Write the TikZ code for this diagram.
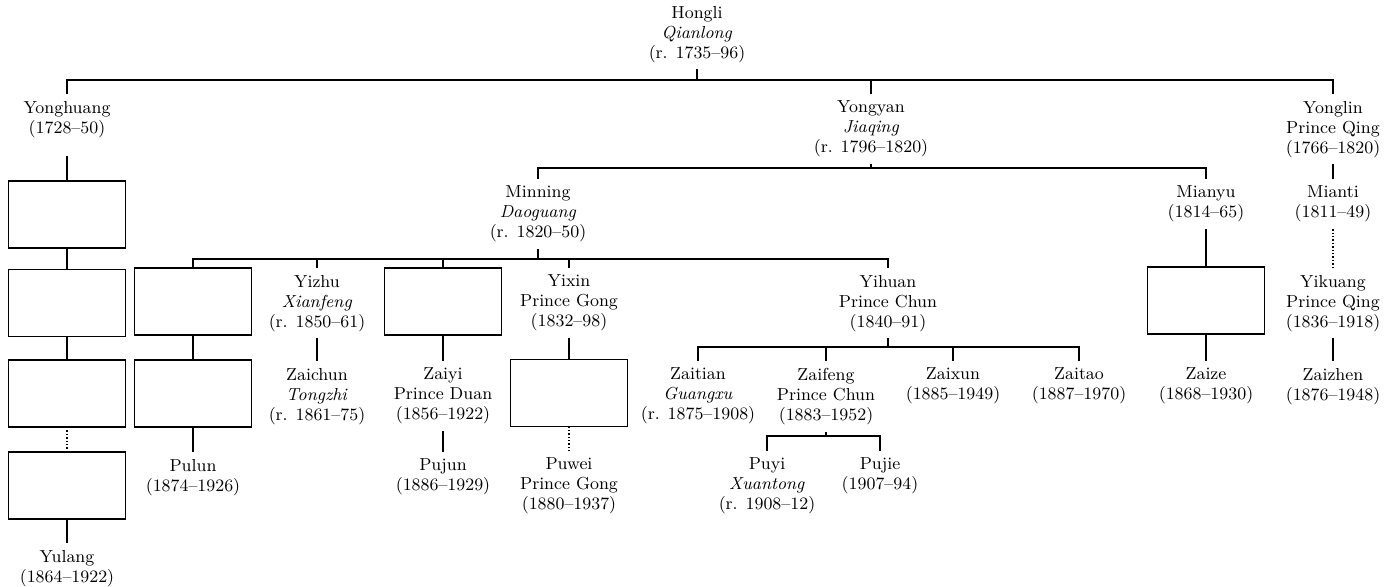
\documentclass[tikz,border=0pt]{standalone}
\begin{document}
\begin{tikzpicture}[x=0.5pt,y=-0.5pt,
  person/.style={align=center,inner sep=0pt,outer sep=3.5pt,anchor=north,font=\fontsize{8.7}{10}\selectfont},
  emptybox/.style={draw,line width=0.7pt,minimum width=58.5pt,minimum height=33.5pt,inner sep=0pt,outer sep=0pt},
  link/.style={line width=0.7pt},
  dotlink/.style={line width=0.7pt,densely dotted}]
\useasboundingbox (0,0) rectangle (1389,587);
% people
\node[person] (hongli) at (697,-1) {Hongli\\\textit{Qianlong}\\(r. 1735--96)};
\node[person] (yonghuang) at (67,94) {Yonghuang\\(1728--50)};
\node[person] (yongyan) at (871,94) {Yongyan\\\textit{Jiaqing}\\(r. 1796--1820)};
\node[person] (yonglin) at (1333,94) {Yonglin\\Prince Qing\\(1766--1820)};
\node[person] (minning) at (538,179) {Minning\\\textit{Daoguang}\\(r. 1820--50)};
\node[person] (mianyu) at (1206,179) {Mianyu\\(1814--65)};
\node[person] (mianti) at (1333,179) {Mianti\\(1811--49)};
\node[person] (yizhu) at (317,268) {Yizhu\\\textit{Xianfeng}\\(r. 1850--61)};
\node[person] (yixin) at (569,268) {Yixin\\Prince Gong\\(1832--98)};
\node[person] (yihuan) at (888,268) {Yihuan\\Prince Chun\\(1840--91)};
\node[person] (yikuang) at (1333,268) {Yikuang\\Prince Qing\\(1836--1918)};
\node[person] (zaichun) at (317,361) {Zaichun\\\textit{Tongzhi}\\(r. 1861--75)};
\node[person] (zaiyi) at (443,361) {Zaiyi\\Prince Duan\\(1856--1922)};
\node[person] (zaitian) at (698,361) {Zaitian\\\textit{Guangxu}\\(r. 1875--1908)};
\node[person] (zaifeng) at (826,361) {Zaifeng\\Prince Chun\\(1883--1952)};
\node[person] (zaixun) at (953,361) {Zaixun\\(1885--1949)};
\node[person] (zaitao) at (1079,361) {Zaitao\\(1887--1970)};
\node[person] (zaize) at (1206,361) {Zaize\\(1868--1930)};
\node[person] (zaizhen) at (1333,361) {Zaizhen\\(1876--1948)};
\node[person] (pulun) at (193,452) {Pulun\\(1874--1926)};
\node[person] (pujun) at (443,452) {Pujun\\(1886--1929)};
\node[person] (puwei) at (569,451) {Puwei\\Prince Gong\\(1880--1937)};
\node[person] (puyi) at (767,451) {Puyi\\\textit{Xuantong}\\(r. 1908--12)};
\node[person] (pujie) at (880,451) {Pujie\\(1907--94)};
\node[person] (yulang) at (67,543) {Yulang\\(1864--1922)};
% empty boxes
\node[emptybox] (A1) at (67,214.5) {};
\node[emptybox] (A2) at (67,303) {};
\node[emptybox] (A3) at (67,393.5) {};
\node[emptybox] (A4) at (67,485.5) {};
\node[emptybox] (B1) at (193,301.5) {};
\node[emptybox] (B2) at (193,393.5) {};
\node[emptybox] (C1) at (443,301.5) {};
\node[emptybox] (D1) at (569,393) {};
\node[emptybox] (E1) at (1206,300.5) {};
% bus points
\coordinate (b1) at (697,80);
\coordinate (b2) at (871,168);
\coordinate (b3) at (538,259);
\coordinate (b4) at (888,347);
\coordinate (b5) at (826,436);
% connectors
\draw[link] (hongli) -- (b1);
\draw[link] (yonghuang.north) |- (b1) -| (yonglin.north);
\draw[link] (yongyan.north) -- (yongyan.north |- b1);
\draw[link] (yongyan) -- (b2);
\draw[link] (minning.north) |- (b2) -| (mianyu.north);
\draw[link] (yonglin) -- (mianti);
\draw[link] (minning) -- (b3);
\draw[link] (B1.north) |- (b3) -| (yihuan.north);
\draw[link] (yizhu.north) -- (yizhu.north |- b3);
\draw[link] (C1.north) -- (C1.north |- b3);
\draw[link] (yixin.north) -- (yixin.north |- b3);
\draw[link] (mianyu) -- (E1);
\draw[dotlink] (mianti) -- (yikuang);
\draw[link,shorten <=6pt] (yonghuang) -- (A1);
\draw[link] (A1) -- (A2);
\draw[link] (A2) -- (A3);
\draw[dotlink] (A3) -- (A4);
\draw[link] (A4) -- (yulang);
\draw[link] (B1) -- (B2);
\draw[link] (B2) -- (pulun);
\draw[link] (yizhu) -- (zaichun);
\draw[link] (C1) -- (zaiyi);
\draw[link] (zaiyi) -- (pujun);
\draw[link] (yixin) -- (D1);
\draw[dotlink] (D1) -- (puwei);
\draw[link] (yihuan) -- (b4);
\draw[link] (zaitian.north) |- (b4) -| (zaitao.north);
\draw[link] (zaifeng.north) -- (zaifeng.north |- b4);
\draw[link] (zaixun.north) -- (zaixun.north |- b4);
\draw[link] (zaifeng) -- (b5);
\draw[link] (puyi.north) |- (b5) -| (pujie.north);
\draw[link] (E1) -- (zaize);
\draw[link] (yikuang) -- (zaizhen);
\end{tikzpicture}
\end{document}
